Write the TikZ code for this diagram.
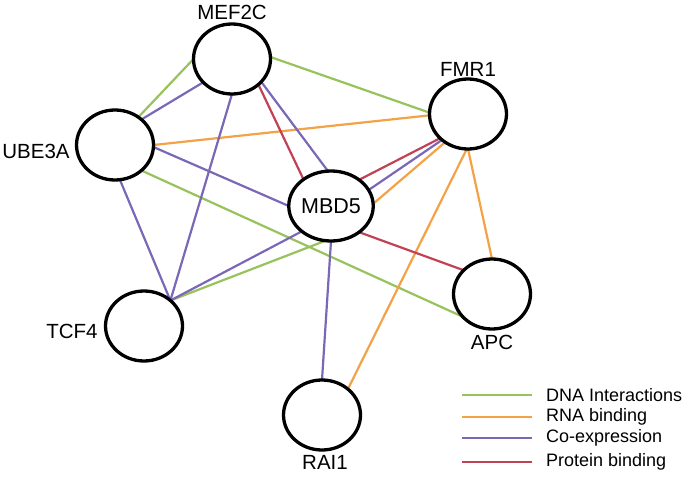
\documentclass[tikz,border=0pt]{standalone}
\usepackage{fontspec}
\setmainfont{Liberation Sans}
\usetikzlibrary{shapes.geometric,backgrounds}
\definecolor{cdna}{RGB}{152,194,92}
\definecolor{crna}{RGB}{244,162,70}
\definecolor{cco}{RGB}{122,104,182}
\definecolor{cprot}{RGB}{192,66,84}
\tikzset{
  gene/.style={ellipse, draw=black, fill=white, line width=3.3pt, minimum width=77pt, minimum height=70pt, inner sep=0pt, outer sep=0pt, font=\fontsize{21.5}{24}\selectfont},
  lbl/.style={font=\fontsize{20.5}{24}\selectfont, inner sep=0pt},
  leg/.style={font=\fontsize{18}{20}\selectfont, inner sep=0pt, anchor=west},
  dna/.style={draw=cdna, line width=2.2pt},
  rna/.style={draw=crna, line width=2.2pt},
  coexp/.style={draw=cco, line width=2.2pt},
  prot/.style={draw=cprot, line width=2.2pt},
}
\begin{document}
\begin{tikzpicture}[x=1pt,y=-1pt]
\useasboundingbox (0,0) rectangle (687,476);
\node[gene] (mef) at (232,59) {};
\node[gene] (ube) at (115,145) {};
\node[gene] (mbd) at (331,206) {MBD5};
\node[gene] (fmr) at (468,114) {};
\node[gene] (apc) at (492,294) {};
\node[gene] (tcf) at (144,326) {};
\node[gene] (rai) at (322,415) {};
\begin{scope}[on background layer]
% DNA interactions
\draw[dna] (mef.180) -- (ube.50);
\draw[dna] (mef.3) -- (fmr.178);
\draw[dna] (ube.316) -- (apc.218);
\draw[dna] (mbd.261) -- (tcf.44);
% RNA binding
\draw[rna] (ube.0) -- (fmr.182);
\draw[rna] (mbd.3) -- (fmr.231);
\draw[rna] (fmr.270) -- (apc.90);
\draw[rna] (fmr.268) -- (rai.45);
% Co-expression
\draw[coexp] (mef.219) -- (ube.44);
\draw[coexp] (mef.270) -- (tcf.44);
\draw[coexp] (mef.322) -- (mbd.95);
\draw[coexp] (ube.357) -- (mbd.180);
\draw[coexp] (ube.278) -- (tcf.44);
\draw[coexp] (mbd.221) -- (tcf.44);
\draw[coexp] (mbd.23) -- (fmr.225);
\draw[coexp] (mbd.270) -- (rai.90);
% Protein binding
\draw[prot] (mef.316) -- (mbd.136);
\draw[prot] (mbd.43) -- (fmr.221);
\draw[prot] (mbd.317) -- (apc.140);
\end{scope}
% labels
\node[lbl] (lmef) at (232,12) {MEF2C};
\node[lbl] (lube) at (36,151) {UBE3A};
\node[lbl] (lfmr) at (468,69) {FMR1};
\node[lbl] (lapc) at (492,342) {APC};
\node[lbl] (ltcf) at (72,331) {TCF4};
\node[lbl] (lrai) at (325,462) {RAI1};
% legend
\node[leg] (t1) at (546,395) {DNA Interactions};
\node[leg] (t2) at (546,417) {RNA binding};
\node[leg] (t3) at (546,438) {Co-expression};
\node[leg] (t4) at (546,462) {Protein binding};
\coordinate (s1) at (462,395);
\coordinate (s2) at (462,417);
\coordinate (s3) at (462,438);
\coordinate (s4) at (462,462);
\draw[dna] (s1) -- ++(70,0);
\draw[rna] (s2) -- ++(70,0);
\draw[coexp] (s3) -- ++(70,0);
\draw[prot] (s4) -- ++(70,0);
\end{tikzpicture}
\end{document}
